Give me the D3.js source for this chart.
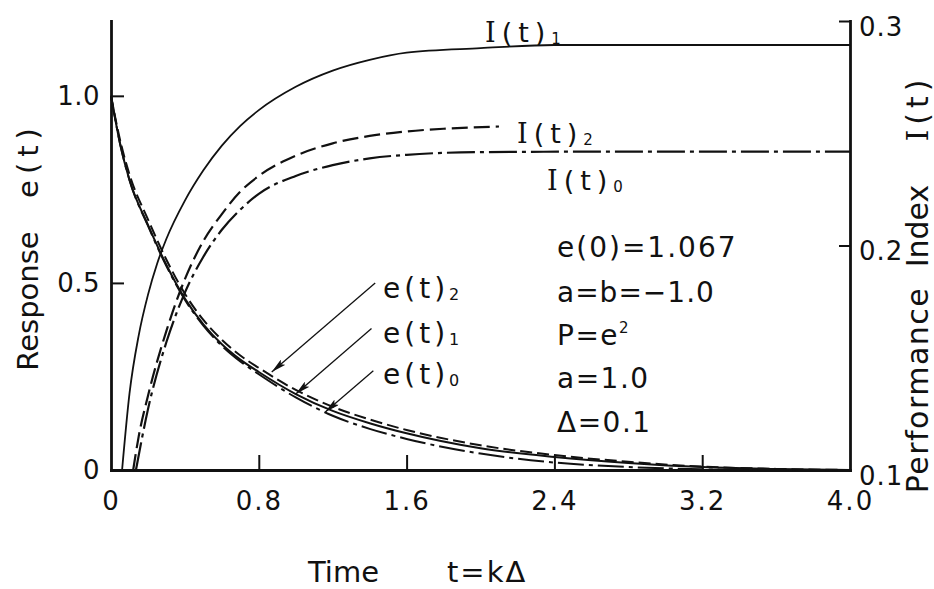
<!DOCTYPE html>
<html><head><meta charset="utf-8">
<script src="https://cdn.jsdelivr.net/npm/d3@7"></script>
<style>
body{margin:0;background:#fff}
svg{display:block}
text{font-family:"DejaVu Sans",sans-serif;fill:#111}
</style>
</head><body>
<svg id="c" width="934" height="589"></svg>
<script>
// ---------- data ----------
const xTicks = [0, 0.8, 1.6, 2.4, 3.2, 4.0];
const xTickLabels = ["0", "0.8", "1.6", "2.4", "3.2", "4.0"];
const leftTicks = [0, 0.5, 1.0];
const leftTickLabels = ["0", "0.5", "1.0"];
const rightTicks = [0.1, 0.2, 0.3];
const rightTickLabels = ["0.1", "0.2", "0.3"];

// performance index I(t) (right axis)
const tI1 = [0.06,0.1,0.15,0.2,0.25,0.3,0.4,0.5,0.6,0.7,0.8,1.0,1.2,1.4,1.6,2.0,2.4,3.0,4.0];
const I1  = [0.100,0.134,0.160,0.178,0.192,0.203,0.220,0.2335,0.2445,0.2533,0.2603,0.2707,0.2779,0.2827,0.2859,0.2879,0.2893,0.2893,0.2893];
const tI2 = [0.12,0.15,0.2,0.3,0.4,0.5,0.6,0.7,0.8,1.0,1.2,1.4,1.6,1.8,2.1];
const I2  = [0.100,0.115,0.133,0.162,0.185,0.202,0.214,0.224,0.231,0.240,0.2455,0.2488,0.2508,0.252,0.253];
const tI0 = [0.135,0.2,0.3,0.4,0.5,0.6,0.7,0.8,1.0,1.2,1.4,1.6,2.0,2.6,4.0];
const I0  = [0.100,0.127,0.157,0.179,0.195,0.207,0.216,0.223,0.231,0.2358,0.2388,0.2404,0.2416,0.2418,0.2418];

// response e(t) (left axis)
const tE = [0,0.05,0.1,0.2,0.3,0.4,0.5,0.6,0.7,0.8,1.0,1.2,1.4,1.6,2.0,2.4,2.8,3.2,3.6,4.0];
const e1 = [1.0,0.87,0.775,0.655,0.548,0.458,0.389,0.336,0.295,0.262,0.203,0.158,0.125,0.098,0.058,0.035,0.019,0.008,0.003,0.0];
const e2 = [1.0,0.88,0.79,0.67,0.562,0.471,0.401,0.348,0.306,0.273,0.214,0.169,0.135,0.107,0.066,0.04,0.022,0.009,0.003,0.0];
const e0 = [1.0,0.87,0.775,0.653,0.545,0.455,0.386,0.332,0.29,0.256,0.194,0.145,0.11,0.083,0.044,0.02,0.008,0.002,0.0,0.0];

// arrow annotations: label, from (t,e) to tip (t,e)
const arrowLabels = ["2", "1", "0"];
const arrowFrom = [[1.43,0.50],[1.41,0.378],[1.42,0.265]];
const arrowTip  = [[0.87,0.262],[1.0,0.203],[1.16,0.155]];

// ---------- chart ----------
const svg = d3.select("#c");
svg.append("rect").attr("width",934).attr("height",589).attr("fill","#fff");

const x  = d3.scaleLinear().domain([0,4]).range([111,850]);
const yL = d3.scaleLinear().domain([0,1.2]).range([470,21]);
const yR = d3.scaleLinear().domain([0.1,0.3]).range([470,21]);
const ink = "#111";

function styleAxis(g, fs, ls){
  g.attr("font-family",'"DejaVu Sans",sans-serif').attr("font-size",fs);
  g.select(".domain").attr("stroke",ink).attr("stroke-width",2.8).attr("stroke-linecap","square");
  g.selectAll(".tick line").attr("stroke",ink).attr("stroke-width",2);
  g.selectAll(".tick text").attr("fill",ink).style("letter-spacing",ls+"px");
}

const gx = svg.append("g").attr("transform","translate(0,470)")
  .call(d3.axisBottom(x).tickValues(xTicks).tickSizeInner(-15).tickSizeOuter(0).tickPadding(22)
    .tickFormat((d,i)=>xTickLabels[i]));
styleAxis(gx,26,2);
gx.selectAll(".tick line").filter(d=>d===0||d===4).remove();

const gl = svg.append("g").attr("transform","translate(111,0)")
  .call(d3.axisLeft(yL).tickValues(leftTicks).tickSizeInner(-13).tickSizeOuter(0).tickPadding(11)
    .tickFormat((d,i)=>leftTickLabels[i]));
styleAxis(gl,26,0.5);
gl.selectAll(".tick line").filter(d=>d===0).remove();

const gr = svg.append("g").attr("transform","translate(850,0)")
  .call(d3.axisRight(yR).tickValues(rightTicks).tickSizeInner(-11).tickSizeOuter(0).tickPadding(9)
    .tickFormat((d,i)=>rightTickLabels[i]));
styleAxis(gr,26,1);
gr.selectAll(".tick line").filter(d=>d===0.1).remove();
gr.selectAll(".tick text").attr("dy","0.55em");

// curves
const lineR = d3.line().x(d=>x(d[0])).y(d=>yR(d[1])).curve(d3.curveMonotoneX);
const lineL = d3.line().x(d=>x(d[0])).y(d=>yL(d[1])).curve(d3.curveMonotoneX);
const zip = (a,b)=>a.map((v,i)=>[v,b[i]]);

const series = [
  {d: lineR(zip(tI1,I1)), dash:null, w:1.8},
  {d: lineR(zip(tI2,I2)), dash:"16,6", w:2.2},
  {d: lineR(zip(tI0,I0)), dash:"28,5,4,5", w:2.2},
  {d: lineL(zip(tE,e1)), dash:null, w:2},
  {d: lineL(zip(tE,e2)), dash:"12,5", w:2},
  {d: lineL(zip(tE,e0)), dash:"26,5,4,5", w:2}
];
svg.append("g").selectAll("path").data(series).join("path")
  .attr("d",s=>s.d).attr("fill","none").attr("stroke",ink)
  .attr("stroke-width",s=>s.w).attr("stroke-dasharray",s=>s.dash);

// arrows
svg.append("defs").append("marker").attr("id","ah")
  .attr("viewBox","0 0 15 7").attr("refX",15).attr("refY",3.5)
  .attr("markerWidth",15).attr("markerHeight",7).attr("orient","auto")
  .attr("markerUnits","userSpaceOnUse")
  .append("path").attr("d","M0,0L15,3.5L0,7L3,3.5Z").attr("fill",ink);
svg.append("g").selectAll("line").data(arrowLabels).join("line")
  .attr("x1",(d,i)=>x(arrowFrom[i][0])).attr("y1",(d,i)=>yL(arrowFrom[i][1]))
  .attr("x2",(d,i)=>x(arrowTip[i][0])).attr("y2",(d,i)=>yL(arrowTip[i][1]))
  .attr("stroke",ink).attr("stroke-width",1.3).attr("marker-end","url(#ah)");

// helper for labels with sub/superscripts
function label(xp, yp, parts, fs, ls){
  const t = svg.append("text").attr("x",xp).attr("y",yp).attr("font-size",fs)
    .style("letter-spacing",ls+"px");
  parts.forEach(p=>{
    const s = t.append("tspan").text(p.t);
    if (p.serif) s.attr("font-family",'"DejaVu Serif",serif');
    if (p.fs) s.attr("font-size",p.fs);
    if (p.dy) s.attr("dy",p.dy);
  });
  return t;
}

// e(t) labels
const eLabelY = [298, 343, 384];
arrowLabels.forEach((s,i)=>{
  label(383, eLabelY[i], [{t:"e(t)"},{t:s,fs:16,dy:2}], 28, 4);
});

// I(t) labels
label(485, 42, [{t:"I",serif:true},{t:"(t)"},{t:"1",fs:15,dy:2}], 27, 6);
label(517, 143, [{t:"I",serif:true},{t:"(t)"},{t:"2",fs:15,dy:2}], 27, 6);
label(547, 190, [{t:"I",serif:true},{t:"(t)"},{t:"0",fs:15,dy:2}], 27, 6);

// parameter block
label(557, 257, [{t:"e(0)=1.067"}], 28, 2);
label(557, 302, [{t:"a=b=−1.0"}], 28, 1);
label(557, 345, [{t:"P=e"},{t:"2",fs:15,dy:-12}], 28, 1.5);
label(557, 388, [{t:"a=1.0"}], 28, 1.5);
label(557, 432, [{t:"Δ=0.1"}], 28, 1.5);

// axis titles
svg.append("text").attr("transform","translate(38,301) rotate(-90)").attr("text-anchor","middle")
  .attr("font-size",29).text("Response");
svg.append("text").attr("transform","translate(38,160) rotate(-90)").attr("text-anchor","middle")
  .attr("font-size",29).style("letter-spacing","6px").text("e(t)");

svg.append("text").attr("transform","translate(928,390) rotate(-90)").attr("text-anchor","middle")
  .attr("font-size",30).style("letter-spacing","1.5px").text("Performance");
svg.append("text").attr("transform","translate(928,226) rotate(-90)").attr("text-anchor","middle")
  .attr("font-size",30).text("Index");
const rt = svg.append("text").attr("transform","translate(928,108) rotate(-90)").attr("text-anchor","middle")
  .attr("font-size",30).style("letter-spacing","5px");
rt.append("tspan").attr("font-family",'"DejaVu Serif",serif').text("I");
rt.append("tspan").text("(t)");

svg.append("text").attr("x",308).attr("y",582).attr("font-size",29).text("Time");
svg.append("text").attr("x",447).attr("y",582).attr("font-size",29).style("letter-spacing","2px").text("t=kΔ");
</script>
</body></html>
